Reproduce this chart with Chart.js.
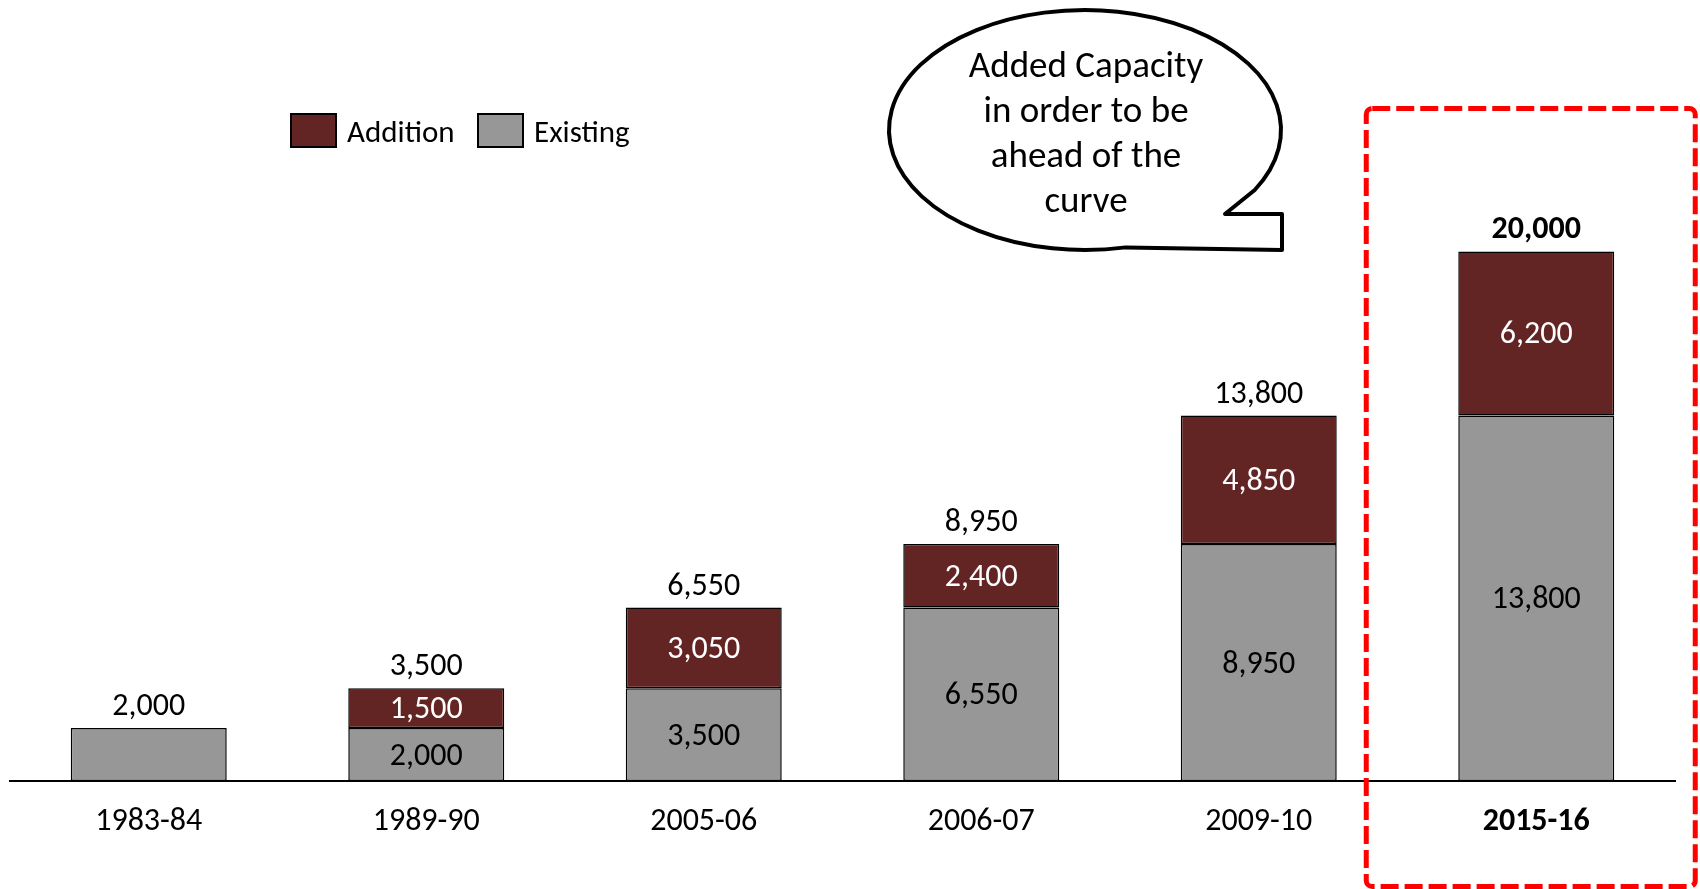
<!DOCTYPE html>
<html>
<head>
<meta charset="utf-8">
<title>Capacity</title>
<script src="https://cdn.jsdelivr.net/npm/chart.js@4.4.1/dist/chart.umd.min.js"></script>
<style>
    html, body { margin: 0; padding: 0; background: #fff; }
    #wrap { width: 1700px; height: 889px; }
</style>
</head>
<body>
<div id="wrap"><canvas id="capacityChart" width="1700" height="889"></canvas></div>
<script>
/* ── Data ─────────────────────────────────────────────────────── */
const years    = ['1983-84', '1989-90', '2005-06', '2006-07', '2009-10', '2015-16'];
const existing = [2000, 2000, 3500, 6550, 8950, 13800];
const addition = [0, 1500, 3050, 2400, 4850, 6200];
const bubbleLines = ['Added Capacity', 'in order to be', 'ahead of the', 'curve'];

/* ── Style ────────────────────────────────────────────────────── */
const FONT      = "Carlito, Lato, 'Open Sans', sans-serif";
const FONT_SIZE = 32;
const MAROON    = '#632523';
const GREY      = '#979797';
const HILITE    = years.length - 1;   // the highlighted (bold) year

function fmt(v) { return Number(v).toLocaleString('en-US'); }

/* ── Value labels ─────────────────────────────────────────────── */
const valueLabels = {
    id: 'valueLabels',
    afterDatasetsDraw(chart) {
        const ctx  = chart.ctx;
        const exM  = chart.getDatasetMeta(0);
        const adM  = chart.getDatasetMeta(1);
        ctx.save();
        ctx.textAlign = 'center';
        ctx.textBaseline = 'middle';
        years.forEach((y, i) => {
            const ex = exM.data[i], ad = adM.data[i];
            const stacked = addition[i] > 0;
            ctx.font = FONT_SIZE + 'px ' + FONT;
            if (stacked) {
                ctx.fillStyle = '#000';
                ctx.fillText(fmt(existing[i]), ex.x, (ex.y + ex.base) / 2 + 2);
                ctx.fillStyle = '#fff';
                ctx.fillText(fmt(addition[i]), ad.x, (ad.y + ad.base) / 2 + 2);
            }
            const top = stacked ? ad.y : ex.y;
            ctx.fillStyle = '#000';
            ctx.font = (i === HILITE ? 'bold ' : '') + FONT_SIZE + 'px ' + FONT;
            ctx.fillText(fmt(existing[i] + addition[i]), ex.x, top - 21);
        });
        ctx.restore();
    }
};

/* ── Legend, call-out bubble and highlight box ────────────────── */
const overlay = {
    id: 'overlay',
    afterDraw(chart) {
        const ctx = chart.ctx;
        ctx.save();

        // legend
        ctx.font = '31px ' + FONT;
        ctx.textBaseline = 'middle';
        ctx.textAlign = 'left';
        [['Addition', MAROON, 291], ['Existing', GREY, 478]].forEach(([txt, col, x]) => {
            ctx.fillStyle = col;
            ctx.fillRect(x, 114, 45, 33);
            ctx.lineWidth = 2;
            ctx.strokeStyle = '#000';
            ctx.strokeRect(x, 114, 45, 33);
            ctx.fillStyle = '#000';
            ctx.fillText(txt, x + 56, 134);
        });

        // speech bubble
        const cx = 1085, cy = 130, rx = 196, ry = 120;
        const a1 = 30 * Math.PI / 180, a2 = 78 * Math.PI / 180;
        ctx.beginPath();
        ctx.moveTo(cx + rx * Math.cos(a1), cy + ry * Math.sin(a1));
        ctx.lineTo(1225, 214);
        ctx.lineTo(1282, 214);
        ctx.lineTo(1282, 250);
        ctx.lineTo(cx + rx * Math.cos(a2), cy + ry * Math.sin(a2));
        ctx.ellipse(cx, cy, rx, ry, 0, a2, a1 + Math.PI * 2, false);
        ctx.closePath();
        ctx.fillStyle = '#fff';
        ctx.fill();
        ctx.lineWidth = 4;
        ctx.lineJoin = 'round';
        ctx.strokeStyle = '#000';
        ctx.stroke();

        ctx.font = '37px ' + FONT;
        ctx.fillStyle = '#000';
        ctx.textAlign = 'center';
        bubbleLines.forEach((l, k) => ctx.fillText(l, 1086, 68 + k * 44.8));

        // dashed highlight around the last year
        const xs = chart.scales.x;
        const xc = xs.getPixelForValue(HILITE);
        ctx.setLineDash([18, 6]);
        ctx.lineWidth = 5;
        ctx.strokeStyle = '#ff0000';
        ctx.beginPath();
        ctx.roundRect(xc - 170, 108.5, 329, 778, 6);
        ctx.stroke();
        ctx.restore();
    }
};

/* ── Chart ────────────────────────────────────────────────────── */
new Chart(document.getElementById('capacityChart'), {
    type: 'bar',
    data: {
        labels: years,
        datasets: [
            { label: 'Existing', data: existing, backgroundColor: GREY,
              borderColor: '#000', borderWidth: 1.5, borderSkipped: false },
            { label: 'Addition', data: addition, backgroundColor: MAROON,
              borderColor: '#000', borderWidth: 1.5, borderSkipped: false }
        ]
    },
    options: {
        responsive: false,
        animation: false,
        devicePixelRatio: 1,
        layout: { padding: { top: 119, left: 10, right: 25, bottom: 0 } },
        datasets: { bar: { categoryPercentage: 0.562, barPercentage: 1 } },
        plugins: { legend: { display: false }, tooltip: { enabled: false } },
        scales: {
            x: {
                stacked: true,
                grid: { display: false },
                border: { display: true, color: '#000', width: 2 },
                ticks: {
                    color: '#000',
                    padding: 14,
                    font: c => ({ family: FONT, size: FONT_SIZE, weight: c.index === HILITE ? 'bold' : 'normal' })
                },
                afterFit: s => { s.height = 108; }
            },
            y: { stacked: true, display: false, min: 0, max: 25000 }
        }
    },
    plugins: [valueLabels, overlay]
});
</script>
</body>
</html>
